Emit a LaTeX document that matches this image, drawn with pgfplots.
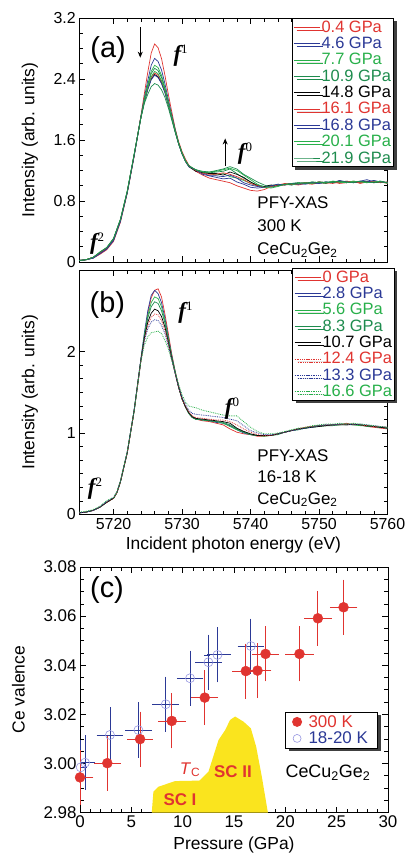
\documentclass[border=0pt]{standalone}
\usepackage{pgfplots}
\pgfplotsset{compat=1.18}
\usepackage{pgfplotstable}
\usepackage{fontspec}
\setmainfont{Liberation Sans}
\newfontfamily\serif{Liberation Serif}
\usetikzlibrary{shadows,arrows.meta}
\definecolor{myred}{RGB}{224,52,48}
\definecolor{myblue}{RGB}{43,57,150}
\definecolor{mygreen}{RGB}{40,176,74}
\definecolor{mygreenb}{RGB}{30,140,78}
\definecolor{lblue}{RGB}{150,150,225}
\definecolor{scyellow}{RGB}{250,228,30}

\pgfplotstableread{
x a04 a46 a77 a109 a148 a161 a168 a201 a219
5715 0.02 0.02 0.02 0.02 0.02 0.02 0.02 0.02 0.02
5716 0.03 0.03 0.03 0.03 0.03 0.03 0.03 0.03 0.03
5717 0.05 0.05 0.06 0.06 0.06 0.06 0.05 0.06 0.06
5718 0.10 0.11 0.12 0.12 0.12 0.12 0.11 0.13 0.13
5719 0.16 0.17 0.18 0.18 0.18 0.18 0.17 0.19 0.19
5720 0.27 0.28 0.30 0.30 0.30 0.30 0.29 0.31 0.31
5721 0.52 0.53 0.55 0.55 0.55 0.55 0.54 0.56 0.56
5722 0.90 0.91 0.92 0.92 0.92 0.92 0.91 0.93 0.93
5723 1.38 1.39 1.40 1.40 1.40 1.40 1.39 1.41 1.41
5724 1.92 1.91 1.90 1.90 1.90 1.90 1.90 1.90 1.89
5724.5 2.21 2.16 2.14 2.12 2.10 2.11 2.10 2.11 2.08
5725 2.49 2.38 2.33 2.31 2.27 2.28 2.26 2.29 2.20
5725.5 2.74 2.58 2.50 2.47 2.40 2.42 2.39 2.43 2.30
5726 2.86 2.67 2.58 2.54 2.46 2.48 2.45 2.50 2.34
5726.5 2.81 2.63 2.55 2.51 2.43 2.45 2.42 2.47 2.32
5727 2.67 2.52 2.45 2.42 2.35 2.37 2.34 2.38 2.26
5727.5 2.45 2.34 2.29 2.27 2.23 2.24 2.22 2.25 2.16
5728 2.20 2.13 2.10 2.09 2.06 2.07 2.06 2.07 2.02
5728.5 1.97 1.93 1.91 1.90 1.89 1.89 1.89 1.90 1.86
5729 1.75 1.74 1.73 1.72 1.71 1.72 1.71 1.72 1.70
5729.5 1.58 1.56 1.56 1.56 1.55 1.56 1.55 1.56 1.55
5730 1.45 1.43 1.43 1.43 1.42 1.43 1.42 1.43 1.42
5730.5 1.35 1.33 1.33 1.33 1.32 1.33 1.32 1.33 1.32
5731 1.27 1.26 1.26 1.26 1.25 1.26 1.25 1.26 1.26
5732 1.19 1.20 1.21 1.20 1.19 1.20 1.21 1.21 1.21
5733 1.14 1.17 1.18 1.18 1.17 1.16 1.15 1.18 1.19
5734 1.10 1.13 1.16 1.17 1.16 1.15 1.13 1.18 1.18
5735 1.08 1.11 1.14 1.18 1.16 1.15 1.13 1.19 1.20
5736 1.06 1.09 1.16 1.19 1.14 1.17 1.12 1.21 1.22
5737 1.04 1.10 1.12 1.22 1.18 1.15 1.14 1.23 1.25
5738 1.00 1.05 1.10 1.16 1.15 1.12 1.10 1.20 1.22
5739 0.97 1.02 1.07 1.10 1.11 1.08 1.04 1.14 1.15
5740 0.94 0.98 1.03 1.05 1.05 1.03 1.01 1.08 1.10
5741 0.93 0.97 1.00 1.01 1.00 1.00 0.99 1.02 1.05
5742 0.95 0.98 0.99 0.99 0.99 0.98 0.98 0.98 1.01
5743 0.99 0.99 1.00 1.00 1.01 0.99 1.00 0.97 0.98
5744 1.00 1.01 1.01 1.02 1.00 1.01 1.02 0.99 1.00
5745 1.01 1.02 1.02 1.01 1.02 1.03 1.01 1.02 1.02
5746 1.02 1.01 1.03 1.03 1.02 1.02 1.03 1.01 1.03
5747 1.01 1.03 1.02 1.04 1.03 1.02 1.02 1.03 1.04
5748 1.03 1.02 1.04 1.03 1.04 1.04 1.03 1.04 1.03
5749 1.02 1.04 1.03 1.05 1.03 1.03 1.04 1.03 1.05
5750 1.04 1.03 1.05 1.04 1.05 1.05 1.03 1.05 1.04
5751 1.03 1.05 1.04 1.03 1.04 1.04 1.05 1.04 1.05
5752 1.05 1.04 1.05 1.06 1.05 1.03 1.04 1.06 1.04
5753 1.03 1.06 1.04 1.05 1.06 1.05 1.07 1.05 1.06
5754 1.04 1.04 1.06 1.04 1.05 1.06 1.05 1.04 1.05
5755 1.06 1.05 1.05 1.06 1.04 1.05 1.04 1.06 1.04
5756 1.03 1.06 1.04 1.05 1.05 1.04 1.06 1.05 1.06
5757 1.05 1.08 1.05 1.04 1.06 1.05 1.05 1.04 1.05
5758 1.04 1.05 1.06 1.05 1.04 1.06 1.07 1.05 1.04
5759 1.05 1.06 1.04 1.06 1.05 1.04 1.05 1.06 1.05
5760 1.03 1.04 1.05 1.04 1.04 1.05 1.04 1.03 1.04
}\tabA

\pgfplotstableread{
x b0 b28 b56 b83 b107 b124 b133 b166
5715 0.02 0.02 0.02 0.02 0.02 0.02 0.02 0.03
5716 0.03 0.03 0.03 0.03 0.03 0.03 0.03 0.04
5717 0.05 0.05 0.05 0.05 0.05 0.05 0.05 0.06
5718 0.09 0.09 0.09 0.09 0.09 0.09 0.09 0.10
5719 0.15 0.15 0.15 0.15 0.15 0.15 0.16 0.17
5720 0.20 0.20 0.20 0.20 0.20 0.20 0.21 0.21
5720.5 0.27 0.27 0.27 0.27 0.27 0.27 0.28 0.28
5721 0.40 0.40 0.40 0.40 0.40 0.40 0.41 0.41
5722 0.75 0.76 0.76 0.76 0.76 0.76 0.77 0.77
5723 1.26 1.28 1.27 1.27 1.27 1.27 1.27 1.27
5724 1.89 1.92 1.90 1.90 1.90 1.89 1.89 1.88
5724.5 2.18 2.23 2.20 2.18 2.16 2.14 2.13 2.08
5725 2.47 2.50 2.44 2.41 2.36 2.32 2.28 2.18
5725.5 2.66 2.69 2.60 2.55 2.47 2.42 2.36 2.23
5726 2.75 2.75 2.67 2.61 2.52 2.46 2.39 2.24
5726.5 2.77 2.71 2.65 2.59 2.50 2.45 2.38 2.25
5727 2.67 2.60 2.55 2.50 2.43 2.38 2.32 2.22
5727.5 2.46 2.41 2.38 2.35 2.30 2.26 2.22 2.14
5728 2.22 2.18 2.16 2.14 2.11 2.09 2.07 2.03
5728.5 1.97 1.95 1.94 1.93 1.91 1.90 1.90 1.89
5729 1.76 1.75 1.75 1.74 1.73 1.73 1.73 1.75
5729.5 1.58 1.57 1.56 1.56 1.56 1.56 1.57 1.60
5730 1.43 1.42 1.42 1.42 1.42 1.42 1.44 1.47
5730.5 1.32 1.32 1.32 1.32 1.32 1.33 1.35 1.38
5731 1.24 1.24 1.24 1.24 1.25 1.26 1.28 1.33
5731.5 1.19 1.19 1.19 1.19 1.20 1.21 1.24 1.32
5732 1.17 1.17 1.17 1.17 1.18 1.19 1.23 1.31
5733 1.15 1.16 1.16 1.16 1.17 1.18 1.22 1.28
5734 1.14 1.15 1.15 1.15 1.16 1.17 1.21 1.26
5735 1.12 1.13 1.14 1.14 1.15 1.16 1.20 1.24
5736 1.10 1.12 1.12 1.13 1.14 1.16 1.19 1.22
5737 1.05 1.09 1.08 1.10 1.12 1.14 1.17 1.21
5738 1.01 1.04 1.04 1.05 1.06 1.10 1.15 1.21
5739 0.99 1.00 1.01 1.01 1.02 1.05 1.09 1.14
5740 0.98 0.98 0.98 0.98 0.99 1.01 1.03 1.07
5741 0.96 0.97 0.97 0.97 0.97 0.98 1.00 1.02
5742 0.96 0.97 0.96 0.97 0.97 0.97 0.98 0.99
5743 0.97 0.97 0.97 0.97 0.97 0.97 0.98 0.99
5744 0.99 0.99 0.99 0.98 0.99 0.99 0.99 1.00
5745 1.01 1.01 1.01 1.01 1.01 1.01 1.01 1.02
5746 1.03 1.03 1.03 1.03 1.03 1.03 1.03 1.04
5747 1.05 1.05 1.04 1.05 1.05 1.05 1.04 1.06
5748 1.07 1.06 1.06 1.06 1.06 1.07 1.06 1.07
5749 1.08 1.08 1.07 1.08 1.07 1.08 1.07 1.09
5750 1.09 1.09 1.08 1.09 1.08 1.09 1.09 1.10
5751 1.09 1.10 1.09 1.09 1.09 1.10 1.10 1.11
5752 1.10 1.10 1.10 1.09 1.10 1.10 1.10 1.11
5753 1.10 1.11 1.10 1.10 1.10 1.11 1.11 1.12
5754 1.12 1.10 1.11 1.10 1.10 1.10 1.11 1.11
5755 1.10 1.11 1.10 1.10 1.11 1.11 1.10 1.12
5756 1.10 1.10 1.09 1.10 1.10 1.10 1.11 1.11
5757 1.08 1.09 1.09 1.08 1.09 1.09 1.10 1.10
5758 1.07 1.08 1.08 1.08 1.08 1.08 1.09 1.09
5759 1.06 1.07 1.07 1.07 1.07 1.08 1.08 1.08
5760 1.05 1.06 1.06 1.06 1.06 1.07 1.07 1.07
}\tabB

\pgfplotstableread{
p v xe ye
0.00 2.9943 1.0 0.010
2.66 3.0001 1.0 0.010
5.85 3.0099 0.95 0.010
8.94 3.0173 1.05 0.010
12.15 3.0268 1.0 0.010
16.15 3.0376 1.05 0.010
17.29 3.0378 1.05 0.010
18.07 3.0446 1.0 0.010
21.38 3.0446 1.1 0.010
23.17 3.0591 1.05 0.010
25.67 3.0636 1.05 0.010
}\tabRed

\pgfplotstableread{
p v xe ye
0.07 2.9984 0.3 0.010
0.49 3.0003 0.7 0.010
2.92 3.0116 1.0 0.010
5.69 3.0136 1.0 0.010
8.35 3.0241 1.0 0.010
10.72 3.0347 1.0 0.010
12.51 3.0412 1.0 0.010
13.39 3.0442 1.0 0.010
16.64 3.0478 1.0 0.010
}\tabBlue

\pgfplotsset{
  panel/.style={
    scale only axis,
    /pgf/number format/assume math mode=true,
    tick align=inside, tick pos=both,
    major tick length=6bp, minor tick length=3.5bp,
    every tick/.style={black, line width=0.6pt},
    axis line style={line width=0.8pt},
    tick label style={font=\fontsize{16}{18}\selectfont},
    label style={font=\fontsize{17.5}{19}\selectfont},
    legend cell align=left,
  },
  spec/.style={panel,
    width=308.2bp, xmin=5715, xmax=5760,
    xtick={5720,5730,5740,5750,5760}, minor x tick num=4,
    ylabel={Intensity (arb. units)},
    ylabel style={at={(rel axis cs:-0.16,0.5)}, anchor=center},
    legend image post style={xscale=1.55},
    legend style={font=\fontsize{16.5}{17}\selectfont, draw=black, line width=0.9pt,
      anchor=north east, inner xsep=1.5pt, inner ysep=0.5pt,
      nodes={inner xsep=1pt, inner ysep=1.7pt},
      drop shadow={shadow xshift=3bp, shadow yshift=-3bp, fill=black!75, opacity=1}},
  },
}

\newcommand{\fsup}[1]{{\serif\fontsize{23}{24}\selectfont\bfseries\itshape f}\raisebox{8bp}{\serif\fontsize{13}{14}\selectfont #1}}
\newcommand{\cecuge}{CeCu\textsubscript{2}Ge\textsubscript{2}}

\begin{document}
\begin{tikzpicture}
\useasboundingbox (0,0) rectangle (408bp,-854bp);

% ---------------- (a)
\begin{axis}[spec,
  at={(79.3bp,-262bp)}, anchor=south west, height=244bp,
  ymin=0, ymax=3.2, ytick={0,0.8,1.6,2.4,3.2}, minor y tick num=3,
  xticklabels={},
  legend style={at={(rel axis cs:1.021,1.0)}},
]
\addplot[myred, line width=0.7pt] table[x=x,y=a04]{\tabA};
\addlegendentry{\textcolor{myred}{0.4 GPa}}
\addplot[myblue, line width=0.7pt] table[x=x,y=a46]{\tabA};
\addlegendentry{\textcolor{myblue}{4.6 GPa}}
\addplot[mygreen, line width=0.7pt] table[x=x,y=a77]{\tabA};
\addlegendentry{\textcolor{mygreen}{7.7 GPa}}
\addplot[mygreenb, line width=0.7pt] table[x=x,y=a109]{\tabA};
\addlegendentry{\textcolor{mygreenb}{10.9 GPa}}
\addplot[black, line width=0.7pt] table[x=x,y=a148]{\tabA};
\addlegendentry{\textcolor{black}{14.8 GPa}}
\addplot[myred, line width=0.7pt] table[x=x,y=a161]{\tabA};
\addlegendentry{\textcolor{myred}{16.1 GPa}}
\addplot[myblue, line width=0.7pt] table[x=x,y=a168]{\tabA};
\addlegendentry{\textcolor{myblue}{16.8 GPa}}
\addplot[mygreen, line width=0.7pt] table[x=x,y=a201]{\tabA};
\addlegendentry{\textcolor{mygreen}{20.1 GPa}}
\addplot[mygreenb, line width=0.7pt] table[x=x,y=a219]{\tabA};
\addlegendentry{\textcolor{mygreenb}{21.9 GPa}}
\node[font=\fontsize{29}{30}\selectfont] at (axis cs:5719.2,2.78) {(a)};
\draw[-{Stealth[length=6bp,width=5bp]}, line width=1pt] (axis cs:5723.9,3.08) -- (axis cs:5723.9,2.68);
\node at (axis cs:5729.8,2.70) {\fsup{1}};
\draw[-{Stealth[length=6bp,width=5bp]}, line width=1pt] (axis cs:5736.3,1.26) -- (axis cs:5736.3,1.62);
\node at (axis cs:5739.2,1.42) {\fsup{0}};
\node at (axis cs:5717.6,0.24) {\fsup{2}};
\node[anchor=north west, align=left, font=\fontsize{17}{23}\selectfont] at (axis cs:5740.5,0.90) {PFY-XAS\\300 K\\\cecuge};
\end{axis}

% ---------------- (b)
\begin{axis}[spec,
  at={(79.3bp,-514.5bp)}, anchor=south west, height=244.5bp,
  ymin=0, ymax=3, ytick={0,1,2}, minor y tick num=5,
  xlabel={Incident photon energy (eV)},
  xlabel style={at={(rel axis cs:0.5,-0.125)}, anchor=center},
  xticklabel style={/pgf/number format/set thousands separator={}},
  legend style={at={(rel axis cs:1.024,1.008)}},
]
\addplot[myred, line width=0.7pt] table[x=x,y=b0]{\tabB};
\addlegendentry{\textcolor{myred}{0 GPa}}
\addplot[myblue, line width=0.7pt] table[x=x,y=b28]{\tabB};
\addlegendentry{\textcolor{myblue}{2.8 GPa}}
\addplot[mygreen, line width=0.7pt] table[x=x,y=b56]{\tabB};
\addlegendentry{\textcolor{mygreen}{5.6 GPa}}
\addplot[mygreenb, line width=0.7pt] table[x=x,y=b83]{\tabB};
\addlegendentry{\textcolor{mygreenb}{8.3 GPa}}
\addplot[black, line width=0.7pt] table[x=x,y=b107]{\tabB};
\addlegendentry{\textcolor{black}{10.7 GPa}}
\addplot[myred, line width=0.8pt, densely dotted] table[x=x,y=b124]{\tabB};
\addlegendentry{\textcolor{myred}{12.4 GPa}}
\addplot[myblue, line width=0.8pt, densely dotted] table[x=x,y=b133]{\tabB};
\addlegendentry{\textcolor{myblue}{13.3 GPa}}
\addplot[mygreen, line width=0.8pt, densely dotted] table[x=x,y=b166]{\tabB};
\addlegendentry{\textcolor{mygreen}{16.6 GPa}}
\node[font=\fontsize{29}{30}\selectfont] at (axis cs:5719.1,2.57) {(b)};
\node at (axis cs:5730.5,2.48) {\fsup{1}};
\node at (axis cs:5737.3,1.30) {\fsup{0}};
\node at (axis cs:5717.3,0.32) {\fsup{2}};
\node[anchor=north west, align=left, font=\fontsize{17}{21.5}\selectfont] at (axis cs:5740.5,0.84) {PFY-XAS\\16-18 K\\\cecuge};
\end{axis}

% ---------------- (c)
\begin{axis}[panel,
  at={(80bp,-812.5bp)}, anchor=south west, width=308bp, height=245.5bp,
  xmin=0, xmax=30, ymin=2.98, ymax=3.08,
  xtick={0,5,...,30}, minor x tick num=4,
  ytick={2.98,3.00,3.02,3.04,3.06,3.08}, minor y tick num=3,
  tick label style={font=\fontsize{17}{19}\selectfont},
  yticklabel style={/pgf/number format/.cd, fixed, fixed zerofill, precision=2},
  xlabel={Pressure (GPa)}, ylabel={Ce valence},
  xlabel style={at={(rel axis cs:0.5,-0.132)}, anchor=center},
  ylabel style={at={(rel axis cs:-0.2,0.5)}, anchor=center},
  legend style={at={(rel axis cs:0.9685,0.4106)}, anchor=north east,
    font=\fontsize{17}{18}\selectfont, draw=black, line width=0.9pt,
    inner xsep=7pt, inner ysep=1.5pt, column sep=4pt,
    nodes={inner xsep=3pt, inner ysep=1.6pt},
    drop shadow={shadow xshift=3bp, shadow yshift=-3bp, fill=black!75, opacity=1}},
]
\addlegendimage{only marks, mark=*, mark size=4.5bp, myred}
\addlegendentry{\textcolor{myred}{300 K}}
\addlegendimage{only marks, mark=o, mark size=4bp, lblue, mark options={line width=0.6pt}}
\addlegendentry{\textcolor{myblue}{18-20 K}}
\addplot[fill=scyellow, draw=none, forget plot] coordinates {
(6.99,2.98) (7.15,2.9885) (7.64,2.9905) (9.26,2.9928) (11.63,2.9930) (12.51,2.9966)
(13.49,3.0095) (14.14,3.0136) (14.62,3.0177) (15.11,3.0191) (15.93,3.0170)
(16.64,3.0143) (17.16,3.0068) (17.71,2.9946) (18.30,2.98)} \closedcycle;
\node[font=\bfseries\fontsize{17}{18}\selectfont, text=myred] at (axis cs:9.74,2.9852) {SC I};
\node[font=\bfseries\fontsize{17}{18}\selectfont, text=myred] at (axis cs:14.9,2.9966) {SC II};
\node[font=\fontsize{17}{18}\selectfont, text=myred] at (axis cs:10.7,2.9975) {\textit{T}\raisebox{-2.5bp}{\fontsize{12}{13}\selectfont C}};
\addplot[forget plot, only marks, mark=o, mark size=4.5bp, lblue, mark options={line width=0.6pt},
  error bars/.cd, x dir=both, x explicit, y dir=both, y explicit,
  error bar style={myblue, line width=0.8pt},
  error mark options={myblue, mark size=3bp, line width=0.8pt}]
  table[x=p, y=v, x error=xe, y error=ye]{\tabBlue};
\addplot[forget plot, only marks, mark=*, mark size=5bp, myred,
  error bars/.cd, x dir=both, x explicit, y dir=both, y explicit,
  error bar style={myred, line width=0.8pt},
  error mark options={myred, mark size=3bp, line width=0.8pt}]
  table[x=p, y=v, x error=xe, y error=ye]{\tabRed};
\node[font=\fontsize{29}{30}\selectfont] at (axis cs:2.63,3.0706) {(c)};
\node[font=\fontsize{18}{19}\selectfont] at (axis cs:24.15,2.9961) {\cecuge};
\end{axis}
\end{tikzpicture}
\end{document}
